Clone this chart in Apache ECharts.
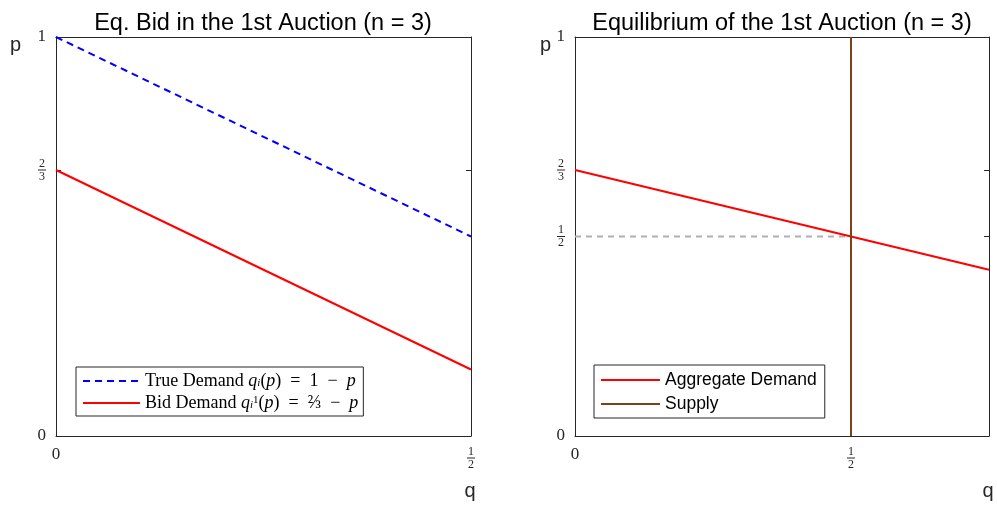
<!DOCTYPE html>
<html>
<head>
<meta charset="utf-8">
<script src="https://cdn.jsdelivr.net/npm/echarts@6/dist/echarts.min.js"></script>
<style>
  html, body { margin: 0; padding: 0; background: #fff; }
  #chart { width: 997px; height: 506px; }
</style>
</head>
<body>
<div id="chart"></div>
<script>
// left panel: true demand vs bid demand
var qLeft = [0, 0.5];
var trueDemandP = [1, 0.5];
var bidDemandP = [2 / 3, 1 / 6];

// right panel: aggregate demand, supply, equilibrium price
var qRight = [0, 0.75];
var aggDemandP = [2 / 3, 5 / 12];
var supplyQ = [0.5, 0.5];
var supplyP = [0, 1];
var eqQ = [0, 0.5];
var eqP = [0.5, 0.5];

// ticks
var xTicksLeft = [0, 0.5];
var xLabelsLeft = ['0', '1/2'];
var yTicksLeft = [0, 2 / 3, 1];
var yLabelsLeft = ['0', '2/3', '1'];
var xTicksRight = [0, 0.5];
var xLabelsRight = ['0', '1/2'];
var yTicksRight = [0, 0.5, 2 / 3, 1];
var yLabelsRight = ['0', '1/2', '2/3', '1'];

var axisColor = '#262626';

function pairs(xs, ys) {
  return xs.map(function (x, i) { return [x, ys[i]]; });
}

// turn 'a/b' into a stacked fraction with rich text
function labeler(ticks, labels) {
  return function (v) {
    for (var i = 0; i < ticks.length; i++) {
      if (Math.abs(ticks[i] - v) < 1e-6) {
        var s = labels[i];
        if (s.indexOf('/') > 0) {
          var p = s.split('/');
          return '{n|' + p[0] + '}\n{b| }\n{n|' + p[1] + '}';
        }
        return '{w|' + s + '}';
      }
    }
    return '';
  };
}

var labelRich = {
  w: { fontFamily: 'Liberation Serif', fontSize: 17, color: axisColor, lineHeight: 18 },
  n: { fontFamily: 'Liberation Serif', fontSize: 12, color: axisColor, lineHeight: 11, align: 'center' },
  b: { width: 8, height: 1, fontSize: 1, lineHeight: 2, backgroundColor: axisColor, align: 'center' }
};

function mainX(grid, max, ticks, labels, nameGap) {
  return {
    gridIndex: grid, type: 'value', min: 0, max: max, position: 'bottom',
    name: 'q', nameLocation: 'end', nameGap: nameGap,
    nameTextStyle: { fontFamily: 'Liberation Sans', fontSize: 20, color: axisColor,
      align: 'center', verticalAlign: 'top', padding: [45, 0, 0, 0] },
    axisLine: { show: true, lineStyle: { color: axisColor, width: 1 } },
    axisTick: { show: true, inside: true, length: 5, customValues: ticks, lineStyle: { color: axisColor } },
    axisLabel: { show: true, margin: 10, customValues: ticks, formatter: labeler(ticks, labels), rich: labelRich },
    splitLine: { show: false }
  };
}

function mainY(grid, ticks, labels, padRight) {
  return {
    gridIndex: grid, type: 'value', min: 0, max: 1, position: 'left',
    name: 'p', nameLocation: 'end', nameGap: -8,
    nameTextStyle: { fontFamily: 'Liberation Sans', fontSize: 20, color: axisColor,
      align: 'right', verticalAlign: 'middle', padding: [0, padRight, 0, 0] },
    axisLine: { show: true, lineStyle: { color: axisColor, width: 1 } },
    axisTick: { show: true, inside: true, length: 5, customValues: ticks, lineStyle: { color: axisColor } },
    axisLabel: { show: true, margin: 10, customValues: ticks, formatter: labeler(ticks, labels), rich: labelRich },
    splitLine: { show: false }
  };
}

function mirror(grid, max, ticks, pos) {
  return {
    gridIndex: grid, type: 'value', min: 0, max: max, position: pos,
    axisLine: { show: true, onZero: false, lineStyle: { color: axisColor, width: 1 } },
    axisTick: { show: true, inside: true, length: 5, customValues: ticks, lineStyle: { color: axisColor } },
    axisLabel: { show: false },
    splitLine: { show: false }
  };
}

var legendRich = {
  r: { fontFamily: 'Liberation Serif', fontSize: 18, lineHeight: 16, color: '#000' },
  m: { fontFamily: 'Liberation Serif', fontStyle: 'italic', fontSize: 18, lineHeight: 16, color: '#000' },
  sb: { fontFamily: 'Liberation Serif', fontStyle: 'italic', fontSize: 11, lineHeight: 16, verticalAlign: 'bottom', color: '#000' },
  sp: { fontFamily: 'Liberation Serif', fontSize: 11, lineHeight: 16, verticalAlign: 'top', color: '#000' }
};

var titleStyle = { fontFamily: 'Liberation Sans', fontSize: 23.5, fontWeight: 'normal', color: '#000' };

var chart = echarts.init(document.getElementById('chart'));
var option = {
  animation: false,
  backgroundColor: '#fff',
  title: [
    { text: 'Eq. Bid in the 1st Auction (n = 3)', left: 258, top: 7, textAlign: 'center', textStyle: titleStyle },
    { text: 'Equilibrium of the 1st Auction (n = 3)', left: 777, top: 7, textAlign: 'center', textStyle: titleStyle }
  ],
  grid: [
    { left: 56, right: 526, top: 37, bottom: 70 },
    { left: 575, right: 8, top: 37, bottom: 70 }
  ],
  xAxis: [
    mainX(0, 0.5, xTicksLeft, xLabelsLeft, -1),
    mainX(1, 0.75, xTicksRight, xLabelsRight, -1),
    mirror(0, 0.5, xTicksLeft, 'top'),
    mirror(1, 0.75, xTicksRight, 'top')
  ],
  yAxis: [
    mainY(0, yTicksLeft, yLabelsLeft, 35),
    mainY(1, yTicksRight, yLabelsRight, 24),
    mirror(0, 1, yTicksLeft, 'right'),
    mirror(1, 1, yTicksRight, 'right')
  ],
  legend: [
    {
      data: ['True Demand', 'Bid Demand'],
      orient: 'vertical', left: 76, top: 367,
      padding: [5, 5, 4, 6], itemWidth: 57, itemHeight: 14, itemGap: 4,
      borderColor: axisColor, borderWidth: 1, backgroundColor: '#fff',
      itemStyle: { opacity: 0 },
      textStyle: { rich: legendRich },
      formatter: function (name) {
        if (name === 'True Demand') {
          return '{r|True Demand }{m|q}{sb|i}{r|(}{m|p}{r|)  =  1  −  }{m|p}';
        }
        return '{r|Bid Demand }{m|q}{sb|i}{sp|1}{r|(}{m|p}{r|)  =  ⅔  −  }{m|p}';
      }
    },
    {
      data: ['Aggregate Demand', 'Supply'],
      orient: 'vertical', left: 594, top: 365,
      padding: [6, 8, 5, 6], itemWidth: 59, itemHeight: 14, itemGap: 6,
      borderColor: axisColor, borderWidth: 1, backgroundColor: '#fff',
      itemStyle: { opacity: 0 },
      textStyle: { fontFamily: 'Liberation Sans', fontSize: 17.5, lineHeight: 16, color: '#000' }
    }
  ],
  series: [
    { name: 'True Demand', type: 'line', xAxisIndex: 0, yAxisIndex: 0, symbol: 'none',
      data: pairs(qLeft, trueDemandP),
      lineStyle: { color: '#0000ff', width: 2, type: [7, 5] }, itemStyle: { color: '#0000ff' } },
    { name: 'Bid Demand', type: 'line', xAxisIndex: 0, yAxisIndex: 0, symbol: 'none',
      data: pairs(qLeft, bidDemandP),
      lineStyle: { color: '#ff0000', width: 2 }, itemStyle: { color: '#ff0000' } },
    { name: 'Equilibrium Price', type: 'line', xAxisIndex: 1, yAxisIndex: 1, symbol: 'none',
      data: pairs(eqQ, eqP),
      lineStyle: { color: '#b0b0b0', width: 2, type: [6, 5] }, itemStyle: { color: '#b0b0b0' } },
    { name: 'Aggregate Demand', type: 'line', xAxisIndex: 1, yAxisIndex: 1, symbol: 'none',
      data: pairs(qRight, aggDemandP),
      lineStyle: { color: '#ff0000', width: 2 }, itemStyle: { color: '#ff0000' } },
    { name: 'Supply', type: 'line', xAxisIndex: 1, yAxisIndex: 1, symbol: 'none',
      data: pairs(supplyQ, supplyP),
      lineStyle: { color: '#7a4216', width: 2 }, itemStyle: { color: '#7a4216' } }
  ]
};
chart.setOption(option);
</script>
</body>
</html>
